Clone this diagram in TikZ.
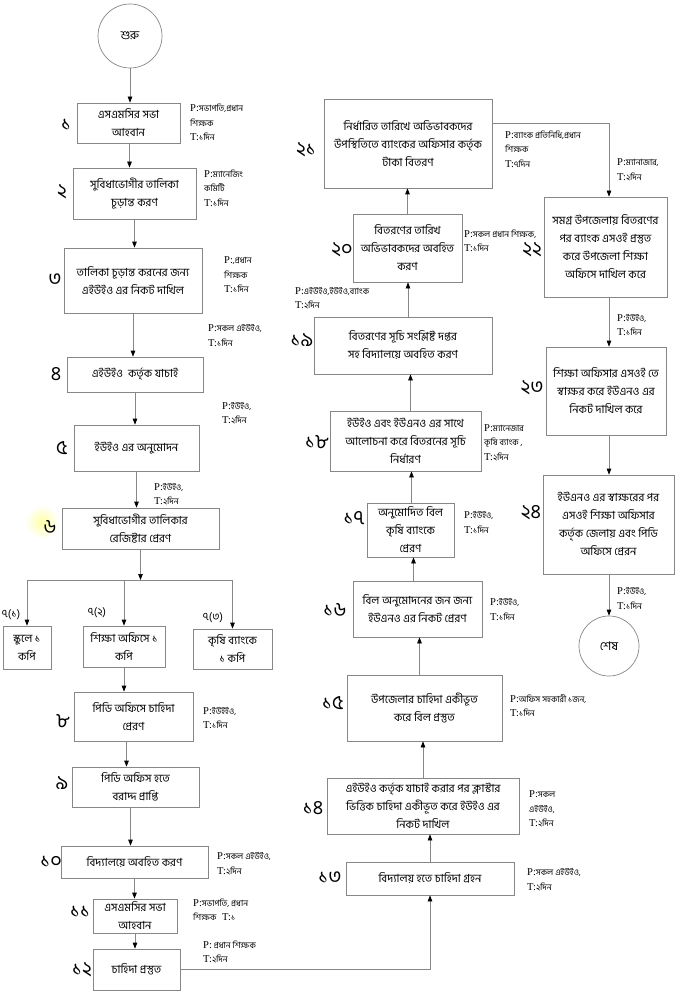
\documentclass[tikz,border=0pt]{standalone}
\usepackage{fontspec}
\setmainfont{Hind Siliguri}[Script=Bengali]
\newfontfamily\lat{Liberation Serif}
\usetikzlibrary{arrows.meta}
\definecolor{linegray}{RGB}{135,135,135}
\newcommand{\PP}{{\lat\fontsize{10.5}{12}\selectfont P:}}
\newcommand{\TT}{{\lat\fontsize{10.5}{12}\selectfont T:}}
\tikzset{
  box/.style={draw=linegray, line width=0.7pt, rectangle, align=center, inner sep=0pt, font=\fontsize{11.2}{18}\selectfont},
  term/.style={draw=linegray, line width=0.7pt, circle, inner sep=0pt, font=\fontsize{12}{14}\selectfont},
  note/.style={anchor=west, align=left, inner sep=0pt, font=\fontsize{8.5}{14.5}\selectfont},
  num/.style={inner sep=0pt, font=\fontsize{20}{22}\selectfont},
  sub/.style={inner sep=0pt, font=\fontsize{11}{13}\selectfont},
  arr/.style={draw=linegray, line width=0.7pt, -{Triangle[length=6pt,width=4.5pt,color=black]}},
  ln/.style={draw=linegray, line width=0.7pt}
}
\begin{document}
\begin{tikzpicture}[x=1pt,y=-1pt]
\useasboundingbox (0,0) rectangle (700,1000);
\fill[white] (0,0) rectangle (700,1000);
\shade[inner color=yellow!35, outer color=white] (42,522) circle (17);
% ---------- left column ----------
\node[term, minimum size=64pt] (start) at (130,36) {শুরু};
\node[box, minimum width=103pt, minimum height=40pt] (b1) at (128.5,123) {এসএমসির সভা\\আহবান};
\node[box, minimum width=123pt, minimum height=51pt] (b2) at (134.5,193.5) {সুবিধাভোগীর তালিকা\\চূড়ান্ত করণ};
\node[box, minimum width=138pt, minimum height=65pt] (b3) at (133,280.5) {তালিকা চূড়ান্ত করনের জন্য\\এইউইও এর নিকট দাখিল};
\node[box, minimum width=136pt, minimum height=35pt] (b4) at (135,374.5) {এইউইও\ \ কর্তৃক যাচাই};
\node[box, minimum width=125pt, minimum height=46pt] (b5) at (136.5,448) {ইউইও এর অনুমোদন};
\node[box, minimum width=157pt, minimum height=41pt] (b6) at (140.5,528.5) {সুবিধাভোগীর তালিকার\\রেজিষ্টার প্রেরণ};
\node[box, minimum width=48pt, minimum height=43pt] (b71) at (27,647.5) {স্কুলে ১\\কপি};
\node[box, minimum width=82pt, minimum height=41pt] (b72) at (124,646.5) {শিক্ষা অফিসে ১\\কপি};
\node[box, minimum width=79pt, minimum height=40pt] (b73) at (232.5,649) {কৃষি ব্যাংকে\\১ কপি};
\node[box, minimum width=119pt, minimum height=49pt] (b8) at (133.5,716.5) {পিডি অফিসে চাহিদা\\প্রেরণ};
\node[box, minimum width=127pt, minimum height=40pt] (b9) at (135.5,787) {পিডি অফিস হতে\\বরাদ্দ প্রাপ্তি};
\node[box, minimum width=147pt, minimum height=32pt] (b10) at (134.5,862) {বিদ্যালয়ে অবহিত করণ};
\node[box, minimum width=84pt, minimum height=34pt] (b11) at (135,916) {এসএমসির সভা\\আহবান};
\node[box, minimum width=87pt, minimum height=41pt] (b12) at (136.5,969.5) {চাহিদা প্রস্তুত};
% ---------- middle column ----------
\node[box, minimum width=168pt, minimum height=33pt] (b13) at (430,878.5) {বিদ্যালয় হতে চাহিদা গ্রহন};
\node[box, minimum width=192pt, minimum height=56pt] (b14) at (423,806) {এইউইও কর্তৃক যাচাই করার পর ক্লাস্টার\\ভিত্তিক চাহিদা একীভূত করে ইউইও এর\\নিকট দাখিল};
\node[box, minimum width=155pt, minimum height=66pt] (b15) at (424.5,708) {উপজেলার চাহিদা একীভূত\\করে বিল প্রস্তুত};
\node[box, minimum width=129pt, minimum height=56pt] (b16) at (417.5,609) {বিল অনুমোদনের জন জন্য\\ইউএনও এর নিকট প্রেরণ};
\node[box, minimum width=87pt, minimum height=54pt] (b17) at (410.5,530) {অনুমোদিত বিল\\কৃষি ব্যাংকে\\প্রেরণ};
\node[box, minimum width=151pt, minimum height=60pt] (b18) at (405.5,441) {ইউইও এবং ইউএনও এর সাথে\\আলোচনা করে বিতরনের সূচি\\নির্ধারণ};
\node[box, minimum width=178pt, minimum height=57pt] (b19) at (403,345.5) {বিতরণের সূচি সংশ্লিষ্ট দপ্তর\\সহ বিদ্যালয়ে অবহিত করণ};
\node[box, minimum width=109pt, minimum height=68pt] (b20) at (407.5,248) {বিতরণের তারিখ\\অভিভাবকদের অবহিত\\করণ};
\node[box, minimum width=168pt, minimum height=89pt] (b21) at (408,143.5) {নির্ধারিত তারিখে অভিভাবকদের\\উপস্থিতিতে ব্যাংকের অফিসার কর্তৃক\\টাকা বিতরণ};
% ---------- right column ----------
\node[box, minimum width=123pt, minimum height=100pt] (b22) at (605.5,247) {সমগ্র উপজেলায় বিতরণের\\পর ব্যাংক এসওই প্রস্তুত\\করে উপজেলা শিক্ষা\\অফিসে দাখিল করে};
\node[box, minimum width=120pt, minimum height=88pt] (b23) at (606,391) {শিক্ষা অফিসার এসওই তে\\স্বাক্ষর করে ইউএনও এর\\নিকট দাখিল করে};
\node[box, minimum width=131pt, minimum height=99pt] (b24) at (608.5,524.5) {ইউএনও এর স্বাক্ষরের পর\\এসওই শিক্ষা অফিসার\\কর্তৃক জেলায় এবং পিডি\\অফিসে প্রেরন};
\node[term, minimum size=60pt] (end) at (609,646) {শেষ};
% ---------- step numbers ----------
\node[num] (n1) at (66,125) {১};
\node[num] (n2) at (62,192) {২};
\node[num] (n3) at (55,280) {৩};
\node[num] (n4) at (56,374) {৪};
\node[num] (n5) at (62,448) {৫};
\node[num] (n6) at (50,527) {৬};
\node[sub] (n71) at (11,615) {৭(১)};
\node[sub] (n72) at (97,613) {৭(২)};
\node[sub] (n73) at (213,618) {৭(৩)};
\node[num] (n8) at (63,721) {৮};
\node[num] (n9) at (62,783) {৯};
\node[num] (n10) at (51,862) {১০};
\node[num] (n11) at (80,912) {১১};
\node[num] (n12) at (82,970) {১২};
\node[num] (n13) at (330,878) {১৩};
\node[num] (n14) at (313,808) {১৪};
\node[num] (n15) at (333,703) {১৫};
\node[num] (n16) at (335,610) {১৬};
\node[num] (n17) at (354,518) {১৭};
\node[num] (n18) at (317,442) {১৮};
\node[num] (n19) at (302,340) {১৯};
\node[num] (n20) at (342,250) {২০};
\node[num] (n21) at (306,150) {২১};
\node[num] (n22) at (532,250) {২২};
\node[num] (n23) at (532,388) {২৩};
\node[num] (n24) at (531,513) {২৪};
% ---------- P/T notes ----------
\node[note] (p1) at (190,122.5) {\PP সভাপতি,প্রধান\\শিক্ষক\\\TT ১দিন};
\node[note] (p2) at (204,188) {\PP ম্যানেজিং\\কমিটি\\\TT ১দিন};
\node[note] (p3) at (224,275) {\PP ,প্রধান\\শিক্ষক\\\TT ১দিন};
\node[note] (p34) at (208,335.5) {\PP সকল এইউইও,\\\TT ১দিন};
\node[note] (p45) at (222,413.5) {\PP ইউইও,\\\TT ২দিন};
\node[note] (p56) at (154,494.5) {\PP ইউইও,\\\TT ২দিন};
\node[note] (p8) at (203,718) {\PP ইউইইও,\\\TT ১দিন};
\node[note] (p10) at (217,864) {\PP সকল এইউইও,\\\TT ২দিন};
\node[note] (p11) at (193,910) {\PP সভাপতি, প্রধান\\শিক্ষক\ \ \ \TT ১};
\node[note] (p12) at (203,952) {\PP\ প্রধান শিক্ষক\\\TT ২দিন};
\node[note] (p13) at (527,880) {\PP সকল এইউইও,\\\TT ২দিন};
\node[note] (p14) at (529,809) {\PP সকল\\এইউইও,\\\TT ২দিন};
\node[note] (p15) at (510,705.5) {\PP অফিস সহকারী ১জন,\\\TT ১দিন};
\node[note] (p16) at (490,609.5) {\PP ইউইও,\\\TT ১দিন};
\node[note] (p17) at (464,522.5) {\PP ইউইও,\\\TT ১দিন};
\node[note] (p18) at (484,442.5) {\PP ম্যানেজার\\কৃষি ব্যাংক ,\\\TT ২দিন};
\node[note] (p19) at (295,298.5) {\PP এইউইও,ইউইও,ব্যাংক\\\TT ২দিন};
\node[note] (p20) at (464,241) {\PP সকল প্রধান শিক্ষক,\\\TT ১দিন};
\node[note] (p21) at (505,149) {\PP ব্যাংক প্রতিনিধি,প্রধান\\শিক্ষক\\\TT ৭দিন};
\node[note] (p22) at (617,170) {\PP ম্যানাজার,\\\TT ২দিন};
\node[note] (p23) at (617,325) {\PP ইউইও,\\\TT ১দিন};
\node[note] (p24) at (617,598.5) {\PP ইউইও,\\\TT ১দিন};
% ---------- connectors ----------
\draw[arr] (start.south) -- (start.south |- b1.north);
\draw[arr] ([xshift=1pt]b1.south) -- ([xshift=1pt]b1.south |- b2.north);
\draw[arr] (b2.south) -- (b2.south |- b3.north);
\draw[arr] (b3.south) -- (b3.south |- b4.north);
\draw[arr] (b4.south) -- (b4.south |- b5.north);
\draw[arr] (b5.south) -- (b5.south |- b6.north);
\coordinate (split) at (140.5,580);
\draw[arr] (b6.south) -- (split);
\draw[ln] (b71.north |- split) -- (b73.north |- split);
\draw[arr] (b71.north |- split) -- (b71.north);
\draw[arr] (b72.north |- split) -- (b72.north);
\draw[arr] (b73.north |- split) -- (b73.north);
\draw[arr] (b72.south) -- (b72.south |- b8.north);
\draw[arr] ([xshift=-7pt]b8.south) -- ([xshift=-7pt]b8.south |- b9.north);
\draw[arr] ([xshift=-5pt]b9.south) -- ([xshift=-5pt]b9.south |- b10.north);
\draw[arr] (b10.south) -- (b10.south |- b11.north);
\draw[arr] (b11.south) -- (b11.south |- b12.north);
\draw[arr] (b12.east) -| (b13.south);
\draw[arr] (b13.north) -- (b13.north |- b14.south);
\draw[arr] (b14.north) -- (b14.north |- b15.south);
\draw[arr] ([xshift=-5pt]b15.north) -- ([xshift=-5pt]b15.north |- b16.south);
\draw[arr] ([xshift=-4pt]b16.north) -- ([xshift=-4pt]b16.north |- b17.south);
\draw[arr] ([xshift=1pt]b17.north) -- ([xshift=1pt]b17.north |- b18.south);
\draw[arr] ([xshift=5pt]b18.north) -- ([xshift=5pt]b18.north |- b19.south);
\draw[arr] ([xshift=5pt]b19.north) -- ([xshift=5pt]b19.north |- b20.south);
\draw[arr] (b20.north) -- (b20.north |- b21.south);
\draw[arr] ([yshift=20.5pt]b21.east) -| ([xshift=3.5pt]b22.north);
\draw[arr] ([xshift=3.5pt]b22.south) -- ([xshift=3.5pt]b22.south |- b23.north);
\draw[arr] ([xshift=3pt]b23.south) -- ([xshift=3pt]b23.south |- b24.north);
\draw[arr] (b24.south -| end.north) -- (end.north);
\end{tikzpicture}
\end{document}
